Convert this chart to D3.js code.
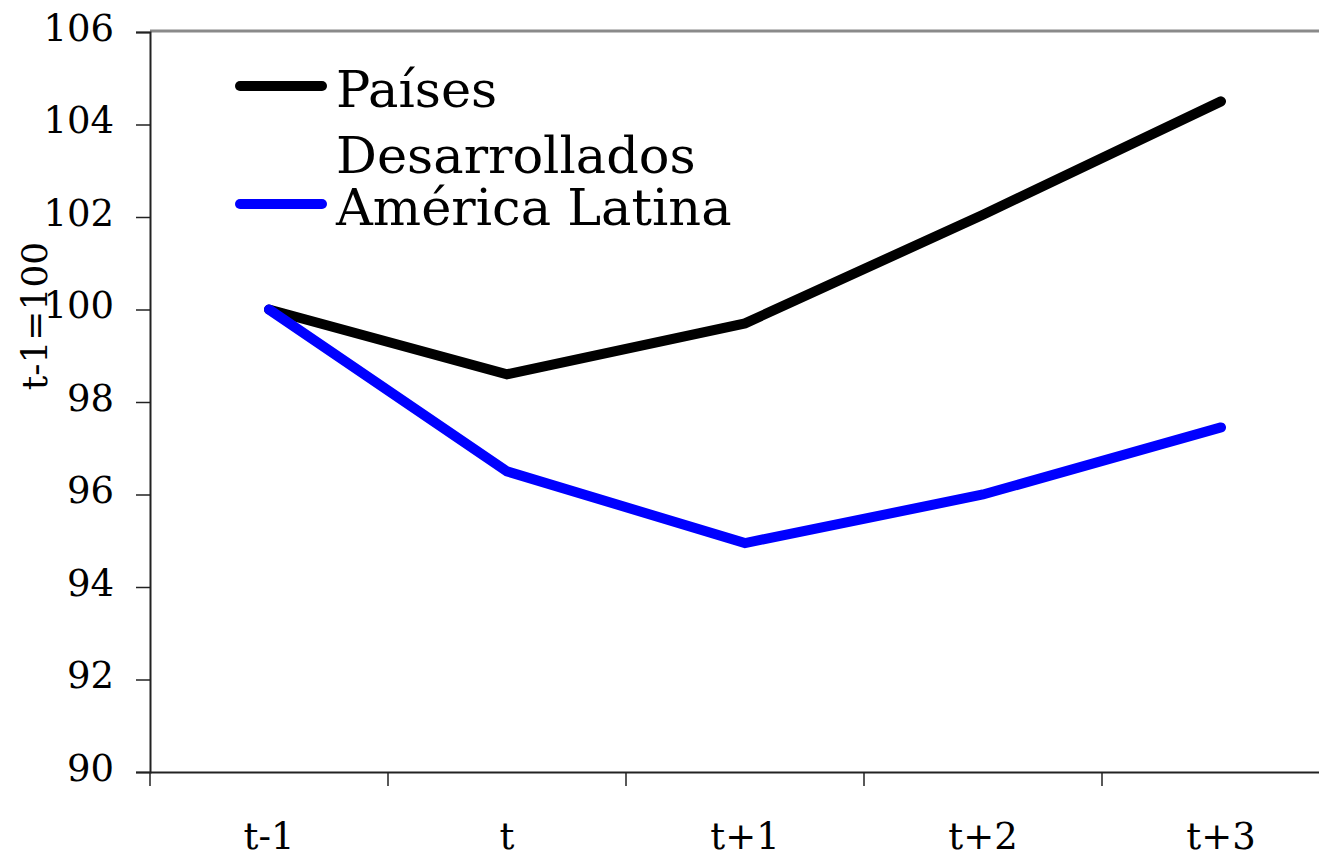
<!DOCTYPE html>
<html>
<head>
<meta charset="utf-8">
<script src="https://cdn.jsdelivr.net/npm/d3@7"></script>
<style>
  html, body { margin: 0; padding: 0; background: #fff; }
  svg { display: block; }
  text { font-family: "DejaVu Serif", serif; fill: #000; }
</style>
</head>
<body>
<svg id="chart" width="1319" height="859"></svg>
<script>
const categories = ["t-1", "t", "t+1", "t+2", "t+3"];
const desarrollados = [100, 98.6, 99.7, 102.05, 104.5];
const americaLatina = [100, 96.5, 94.95, 96.0, 97.45];
const yTicks = [90, 92, 94, 96, 98, 100, 102, 104, 106];
const seriesNames = ["Países", "Desarrollados", "América Latina"];
const yTitle = "t-1=100";

const svg = d3.select("#chart");
const mLeft = 150, mRight = 1340, mTop = 32, mBottom = 772;

const x = d3.scaleBand().domain(categories).range([mLeft, mRight]);
const y = d3.scaleLinear().domain([90, 106]).range([mBottom, mTop]);

// top border
svg.append("line")
  .attr("x1", mLeft).attr("x2", 1319)
  .attr("y1", mTop - 1).attr("y2", mTop - 1)
  .attr("stroke", "#8a8a8a").attr("stroke-width", 3);

// Y axis
const yAxis = d3.axisLeft(y).tickValues(yTicks).tickSize(14).tickPadding(22);
const gy = svg.append("g").attr("transform", `translate(${mLeft},0)`).call(yAxis);
gy.select(".domain").attr("stroke", "#222").attr("stroke-width", 2);
gy.selectAll(".tick line").attr("stroke", "#222").attr("stroke-width", 1.5);
gy.selectAll(".tick text")
  .attr("font-family", "DejaVu Serif").attr("font-size", 37)
  .attr("dy", "0.22em").attr("fill", "#000");

// X axis
const xAxis = d3.axisBottom(x).tickSize(0).tickPadding(0);
const gx = svg.append("g").attr("transform", `translate(0,${mBottom})`).call(xAxis);
gx.select(".domain").attr("stroke", "#222").attr("stroke-width", 2);
gx.selectAll(".tick text")
  .attr("font-family", "DejaVu Serif").attr("font-size", 37)
  .attr("y", 77).attr("dy", 0).attr("fill", "#000");
// boundary tick marks
gx.selectAll(".bound").data(categories).enter().append("line")
  .attr("class", "bound")
  .attr("x1", d => x(d)).attr("x2", d => x(d))
  .attr("y1", 0).attr("y2", 14)
  .attr("stroke", "#222").attr("stroke-width", 1.5);

// Y title
svg.append("text")
  .attr("transform", `translate(47,${316}) rotate(-90)`)
  .attr("text-anchor", "middle")
  .attr("font-size", 36)
  .text(yTitle);

// lines
const line = d3.line()
  .x((d, i) => x(categories[i]) + x.bandwidth() / 2)
  .y(d => y(d));

svg.append("path").datum(desarrollados)
  .attr("d", line).attr("fill", "none")
  .attr("stroke", "#000").attr("stroke-width", 10)
  .attr("stroke-linejoin", "miter").attr("stroke-linecap", "round");
svg.append("path").datum(americaLatina)
  .attr("d", line).attr("fill", "none")
  .attr("stroke", "#0000ff").attr("stroke-width", 10)
  .attr("stroke-linejoin", "miter").attr("stroke-linecap", "round");

// legend
const lg = svg.append("g");
lg.append("line").attr("x1", 240).attr("x2", 322).attr("y1", 86).attr("y2", 86)
  .attr("stroke", "#000").attr("stroke-width", 10).attr("stroke-linecap", "round");
lg.append("line").attr("x1", 240).attr("x2", 322).attr("y1", 204).attr("y2", 204)
  .attr("stroke", "#0000ff").attr("stroke-width", 10).attr("stroke-linecap", "round");
lg.append("text").attr("x", 336).attr("y", 107).attr("font-size", 51).text(seriesNames[0]);
lg.append("text").attr("x", 336).attr("y", 173).attr("font-size", 51).text(seriesNames[1]);
lg.append("text").attr("x", 336).attr("y", 225).attr("font-size", 51).text(seriesNames[2]);
</script>
</body>
</html>
